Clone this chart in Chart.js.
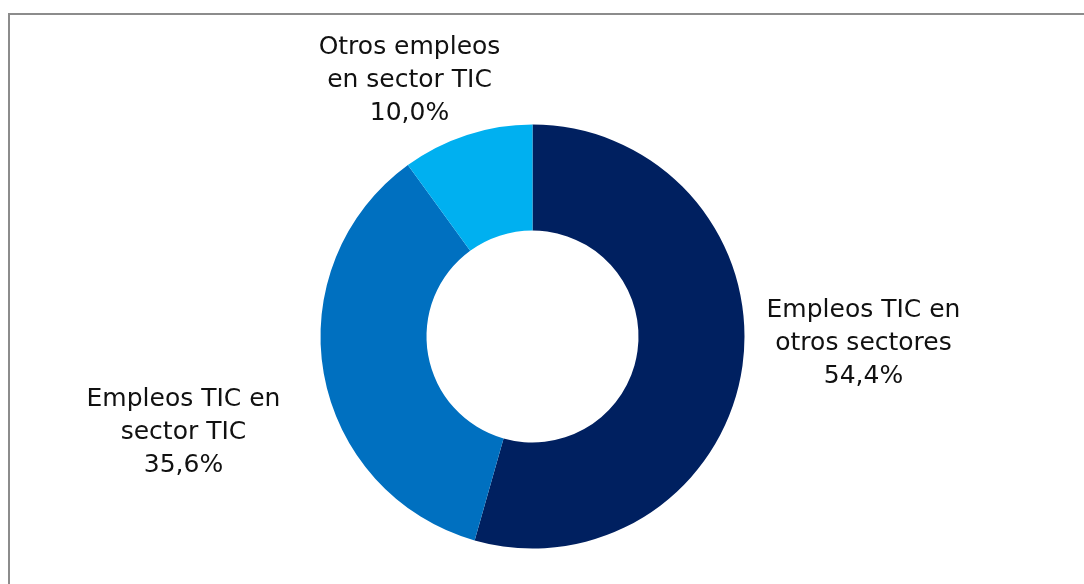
<!DOCTYPE html>
<html>
<head>
<meta charset="utf-8">
<script src="https://cdn.jsdelivr.net/npm/chart.js@4/dist/chart.umd.min.js"></script>
<style>
  html, body { margin: 0; padding: 0; background: #fff; }
  #wrap { position: relative; width: 1084px; height: 584px; overflow: hidden; }
  #frame {
    position: absolute; left: 8px; top: 13px;
    width: 1200px; height: 700px;
    border: 2px solid #8c8c8c; box-sizing: border-box;
  }
  #chart { position: absolute; left: 0; top: 0; }
</style>
</head>
<body>
<div id="wrap">
  <div id="frame"></div>
  <canvas id="chart" width="1084" height="584"></canvas>
</div>
<script>
// Employment shares, drawn clockwise from 12 o'clock
var categories = [
  ['Empleos TIC en', 'otros sectores'],
  ['Empleos TIC en', 'sector TIC'],
  ['Otros empleos', 'en sector TIC']
];
var shares = [54.4, 35.6, 10.0];
var colors = ['#002060', '#0070c0', '#00b0f0'];

// where each label block sits, relative to the ring centre
var labelOffsets = [[331, 7], [-349, 96], [-123, -256]];

var fontFamily = '"DejaVu Sans", sans-serif';
var lineHeight = 33;

function fmtPct(v) {
  return v.toFixed(1).replace('.', ',') + '%';
}

var outsideLabels = {
  id: 'outsideLabels',
  afterDatasetsDraw: function(chart) {
    var ctx = chart.ctx;
    var meta = chart.getDatasetMeta(0);
    ctx.save();
    ctx.font = '25px ' + fontFamily;
    ctx.fillStyle = '#111';
    ctx.textAlign = 'center';
    ctx.textBaseline = 'middle';
    meta.data.forEach(function(arc, i) {
      var lines = chart.data.labels[i].concat([fmtPct(chart.data.datasets[0].data[i])]);
      var cx = arc.x + labelOffsets[i][0];
      var cy = arc.y + labelOffsets[i][1];
      var top = cy - (lines.length - 1) * lineHeight / 2;
      lines.forEach(function(line, j) {
        ctx.fillText(line, cx, top + j * lineHeight);
      });
    });
    ctx.restore();
  }
};

new Chart(document.getElementById('chart'), {
  type: 'doughnut',
  data: {
    labels: categories,
    datasets: [{
      data: shares,
      backgroundColor: colors,
      borderWidth: 0
    }]
  },
  options: {
    responsive: false,
    animation: false,
    cutout: '50%',
    layout: { padding: { left: 320.5, right: 339.5, top: 124.5, bottom: 35.5 } },
    plugins: {
      legend: { display: false },
      tooltip: { enabled: false }
    }
  },
  plugins: [outsideLabels]
});
</script>
</body>
</html>
